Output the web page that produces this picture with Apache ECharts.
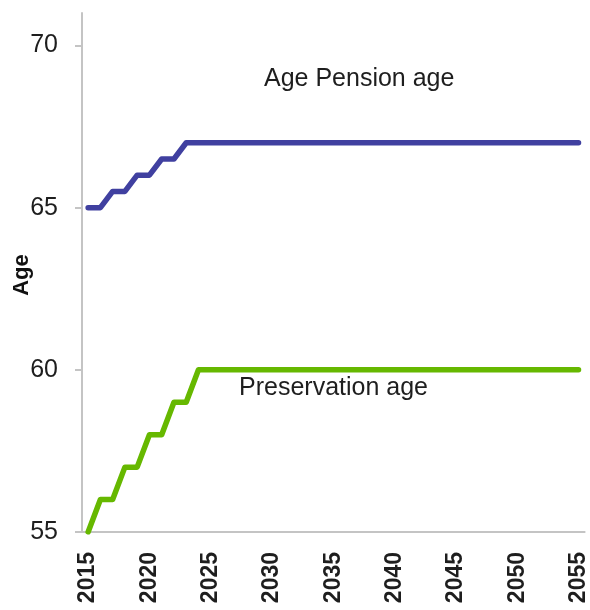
<!DOCTYPE html>
<html>
<head>
<meta charset="utf-8">
<script src="https://cdn.jsdelivr.net/npm/echarts@6/dist/echarts.min.js"></script>
<style>
  html, body { margin: 0; padding: 0; background: #fff; }
  #main { width: 590px; height: 610px; }
</style>
</head>
<body>
<div id="main"></div>
<script>
var years = [
    '2015','2016','2017','2018','2019','2020','2021','2022','2023','2024',
    '2025','2026','2027','2028','2029','2030','2031','2032','2033','2034',
    '2035','2036','2037','2038','2039','2040','2041','2042','2043','2044',
    '2045','2046','2047','2048','2049','2050','2051','2052','2053','2054','2055'
];
// Age Pension age
var pensionAge = [
    65, 65, 65.5, 65.5, 66, 66, 66.5, 66.5, 67, 67,
    67, 67, 67, 67, 67, 67, 67, 67, 67, 67,
    67, 67, 67, 67, 67, 67, 67, 67, 67, 67,
    67, 67, 67, 67, 67, 67, 67, 67, 67, 67, 67
];
// Preservation age
var preservationAge = [
    55, 56, 56, 57, 57, 58, 58, 59, 59, 60,
    60, 60, 60, 60, 60, 60, 60, 60, 60, 60,
    60, 60, 60, 60, 60, 60, 60, 60, 60, 60,
    60, 60, 60, 60, 60, 60, 60, 60, 60, 60, 60
];
var yTicks = [55, 60, 65, 70];

var chart = echarts.init(document.getElementById('main'));
var font = 'Liberation Sans, Arial, sans-serif';

var option = {
    animation: false,
    grid: { left: 82, right: 5, top: 13, bottom: 78 },
    xAxis: {
        type: 'category',
        data: years,
        boundaryGap: true,
        axisLine: { lineStyle: { color: '#c4c4c4', width: 2 } },
        axisTick: { show: false },
        axisLabel: {
            rotate: 90,
            margin: 20,
            interval: 4,
            color: '#1e1e1e',
            fontFamily: font,
            fontWeight: 'bold',
            fontSize: 23
        },
        splitLine: { show: false }
    },
    yAxis: {
        type: 'value',
        min: 55,
        max: 71,
        interval: 5,
        axisLine: { show: true, lineStyle: { color: '#c4c4c4', width: 2 } },
        axisTick: { show: true, length: 7, customValues: yTicks, lineStyle: { color: '#c4c4c4', width: 2 } },
        axisLabel: {
            margin: 24,
            customValues: yTicks,
            color: '#1e1e1e',
            fontFamily: font,
            fontSize: 25
        },
        splitLine: { show: false }
    },
    graphic: [{
        type: 'text',
        x: 22, y: 275,
        rotation: Math.PI / 2,
        style: {
            text: 'Age',
            align: 'center',
            verticalAlign: 'middle',
            fill: '#111',
            font: 'bold 22px ' + font
        }
    }, {
        type: 'text',
        x: 264, y: 79,
        style: {
            text: 'Age Pension age',
            verticalAlign: 'middle',
            fill: '#1e1e1e',
            font: '25px ' + font
        }
    }, {
        type: 'text',
        x: 239, y: 388,
        style: {
            text: 'Preservation age',
            verticalAlign: 'middle',
            fill: '#1e1e1e',
            font: '25px ' + font
        }
    }],
    series: [{
        name: 'Age Pension age',
        type: 'line',
        data: pensionAge,
        symbol: 'none',
        lineStyle: { color: '#4040a0', width: 5.5, join: 'round', cap: 'round' }
    }, {
        name: 'Preservation age',
        type: 'line',
        data: preservationAge,
        symbol: 'none',
        lineStyle: { color: '#66b800', width: 5.5, join: 'round', cap: 'round' }
    }]
};
chart.setOption(option);
</script>
</body>
</html>
